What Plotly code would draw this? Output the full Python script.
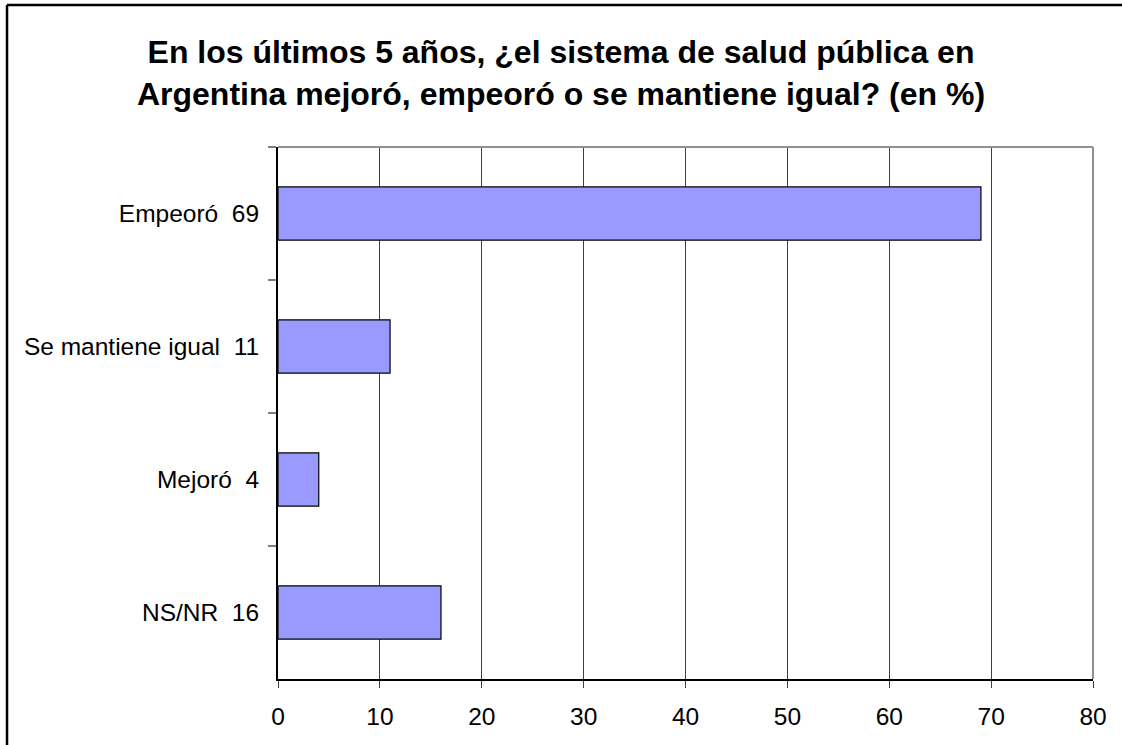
import plotly.graph_objects as go

# Survey answers (in %)
categories = ["Empeoró", "Se mantiene igual", "Mejoró", "NS/NR"]
values = [69, 11, 4, 16]
x_ticks = [0, 10, 20, 30, 40, 50, 60, 70, 80]

labels = [f"{c}\u00a0\u00a0{v}" for c, v in zip(categories, values)]

FONT = "Liberation Sans, Arial, sans-serif"

fig = go.Figure(
    go.Bar(
        x=values,
        y=labels,
        orientation="h",
        marker=dict(color="#9999FF", line=dict(color="#000000", width=1.2)),
        hoverinfo="x+y",
    )
)

fig.update_layout(
    width=1122,
    height=745,
    margin=dict(l=278, r=29, t=147, b=66),
    paper_bgcolor="white",
    plot_bgcolor="white",
    bargap=0.6,
    showlegend=False,
    font=dict(family=FONT, size=24.5, color="#000000"),
    title=dict(
        text="En los últimos 5 años, ¿el sistema de salud pública en<br>"
        "Argentina mejoró, empeoró o se mantiene igual? (en %)",
        x=0.5,
        xref="container",
        xanchor="center",
        y=0.915,
        yref="container",
        yanchor="middle",
        font=dict(family=FONT, size=32, color="#000000", weight="bold"),
    ),
)

fig.update_xaxes(
    range=[0, 80],
    tickvals=x_ticks,
    showgrid=True,
    gridcolor="#404040",
    gridwidth=1,
    showline=True,
    linecolor="#000000",
    linewidth=1.5,
    ticks="outside",
    ticklen=7,
    tickcolor="#404040",
    ticklabelstandoff=8,
    zeroline=False,
)

fig.update_yaxes(
    autorange="reversed",
    showgrid=False,
    showline=True,
    linecolor="#000000",
    linewidth=2,
    ticks="outside",
    tickson="boundaries",
    ticklen=8,
    tickcolor="#808080",
    tickwidth=2,
    ticklabelstandoff=12,
)

# grey top and right frame of the plot area
fig.add_shape(type="line", xref="paper", yref="paper", x0=0, x1=1, y0=1, y1=1,
              line=dict(color="#909090", width=2))
fig.add_shape(type="line", xref="paper", yref="paper", x0=1, x1=1, y0=0, y1=1,
              line=dict(color="#909090", width=2))

# outer chart border (only top and left edges fall inside the picture)
fig.add_shape(type="line", xref="paper", yref="paper",
              x0=-0.3325, x1=1.5, y0=1.267, y1=1.267,
              line=dict(color="#000000", width=2.5), layer="below")
fig.add_shape(type="line", xref="paper", yref="paper",
              x0=-0.3325, x1=-0.3325, y0=-0.5, y1=1.267,
              line=dict(color="#000000", width=2.5), layer="below")

fig.write_html(
    "out.html",
    config={"displayModeBar": False},
    post_script="document.body.style.margin='0';"
    "document.body.style.overflow='hidden';",
)
